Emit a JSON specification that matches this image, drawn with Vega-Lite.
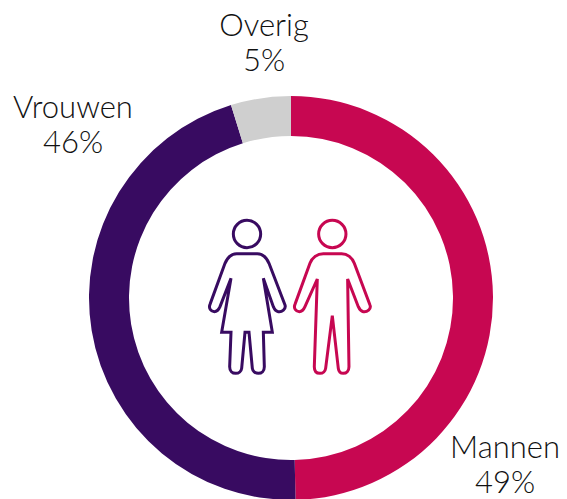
{
  "$schema": "https://vega.github.io/schema/vega-lite/v6.json",
  "width": 404,
  "height": 404,
  "autosize": "none",
  "padding": {"left": 89, "top": 96, "right": 74, "bottom": 0},
  "background": "white",
  "config": {"view": {"stroke": null}},
  "datasets": {
    "parts": [
      {"group": "Mannen", "value": 49.64, "order": 1, "label": "Mannen\n49%", "lx": 214, "ly": -151},
      {"group": "Vrouwen", "value": 45.56, "order": 2, "label": "Vrouwen\n46%", "lx": -218, "ly": 189},
      {"group": "Overig", "value": 4.8, "order": 3, "label": "Overig\n5%", "lx": -27, "ly": 271.5}
    ],
    "woman": [{"group": "Vrouwen", "ix": -44, "iy": 1}],
    "man": [{"group": "Mannen", "ix": 41.3, "iy": 1}]
  },
  "layer": [
    {
      "data": {"name": "parts"},
      "mark": {"type": "arc", "radius": 202, "radius2": 162, "clip": false},
      "encoding": {
        "theta": {"field": "value", "type": "quantitative", "stack": true, "scale": {"domain": [0, 100]}},
        "order": {"field": "order", "type": "ordinal"},
        "color": {
          "field": "group", "type": "nominal", "legend": null,
          "scale": {"domain": ["Mannen", "Vrouwen", "Overig"], "range": ["#C70751", "#380B61", "#CFCFCF"]}
        }
      }
    },
    {
      "data": {"name": "parts"},
      "mark": {"type": "text", "font": "Lato", "fontWeight": 300, "fontSize": 31, "lineBreak": "\n", "lineHeight": 35, "align": "center", "baseline": "middle", "color": "#111111", "clip": false},
      "encoding": {
        "x": {"field": "lx", "type": "quantitative", "axis": null, "scale": {"domain": [-202, 202]}},
        "y": {"field": "ly", "type": "quantitative", "axis": null, "scale": {"domain": [-202, 202]}},
        "text": {"field": "label", "type": "nominal"}
      }
    },
    {
      "data": {"name": "woman"},
      "mark": {"type": "point", "filled": false, "size": 0.4444, "strokeWidth": 3, "opacity": 1, "stroke": "#380B61",
        "shape": "M -31 -130 L 31 -130 C 50 -130 60 -115 66 -101 L 114 24 C 118 36 104 46 94 44 C 87 43 82 36 79 29 L 49 -56 L 76 106 L 49 106 L 52 209 C 52 222 44 229 34 229 C 24 229 17 222 16 214 L 6 106 L -6 106 L -16 214 C -17 222 -24 229 -34 229 C -44 229 -52 222 -52 209 L -48 106 L -76 106 L -48 -56 L -81 29 C -84 36 -90 44 -98 44 C -108 44 -116 34 -111 22 L -66 -101 C -60 -115 -50 -130 -31 -130 Z M -41 -189 a 41 41 0 1 0 82 0 a 41 41 0 1 0 -82 0 Z"},
      "encoding": {
        "x": {"field": "ix", "type": "quantitative", "axis": null, "scale": {"domain": [-202, 202]}},
        "y": {"field": "iy", "type": "quantitative", "axis": null, "scale": {"domain": [-202, 202]}}
      }
    },
    {
      "data": {"name": "man"},
      "mark": {"type": "point", "filled": false, "size": 0.4444, "strokeWidth": 3, "opacity": 1, "stroke": "#C70751",
        "shape": "M -27 -130 L 28 -130 C 45 -130 60 -118 66 -101 L 113 24 C 118 36 104 46 93 44 C 87 43 81 36 78 29 L 46 -54 L 50 209 C 50 222 42 229 33 229 C 24 229 19 222 18 214 L 0 56 L -20 214 C -21 222 -28 229 -37 229 C -47 229 -54 222 -54 209 L -45 -54 L -82 29 C -85 36 -91 44 -99 44 C -109 44 -117 34 -112 22 L -67 -101 C -61 -118 -45 -130 -27 -130 Z M -41 -189 a 41 41 0 1 0 82 0 a 41 41 0 1 0 -82 0 Z"},
      "encoding": {
        "x": {"field": "ix", "type": "quantitative", "axis": null, "scale": {"domain": [-202, 202]}},
        "y": {"field": "iy", "type": "quantitative", "axis": null, "scale": {"domain": [-202, 202]}}
      }
    }
  ]
}
